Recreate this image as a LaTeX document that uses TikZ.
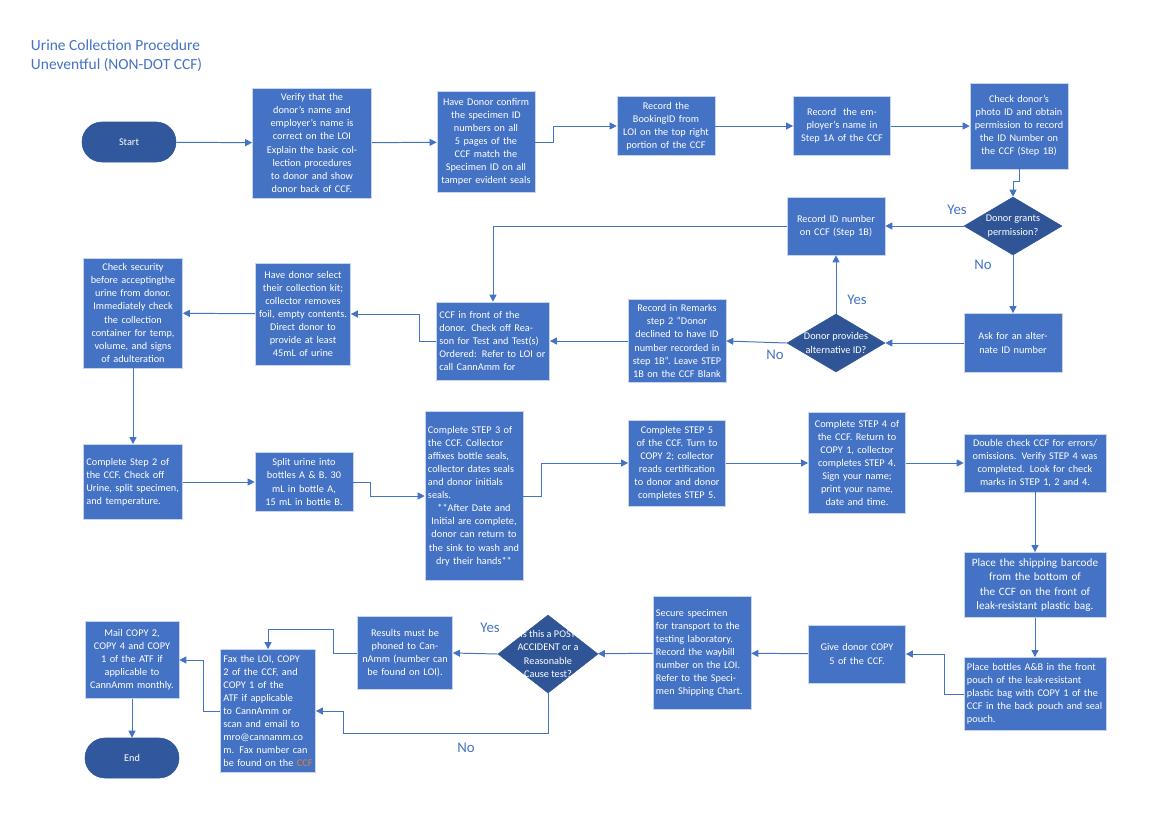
\documentclass[tikz,border=0pt]{standalone}
\usepackage{fontspec}
\setmainfont{Carlito}
\usetikzlibrary{shapes.geometric,arrows.meta}
\definecolor{boxblue}{HTML}{4472C4}
\definecolor{darkblue}{HTML}{2F5597}
\definecolor{ccforange}{HTML}{ED7D31}
\tikzset{
  procbox/.style={draw=white!70!boxblue, fill=boxblue, text=white, inner sep=0.075cm,
    font=\fontsize{7.3}{9.3}\selectfont, align=center},
  leftbox/.style={procbox, align=left},
  terminal/.style={draw=darkblue, fill=darkblue!90!boxblue, text=white, rounded corners=0.5cm,
    minimum width=2.35cm, minimum height=1cm, font=\fontsize{7.3}{9.3}\selectfont},
  decision/.style={diamond, draw=darkblue, fill=darkblue, minimum width=2.45cm,
    minimum height=1.45cm, inner sep=0pt},
  dtext/.style={text=white, font=\fontsize{7.3}{9.3}\selectfont, align=center},
  flow/.style={draw=boxblue, line width=0.7pt, -{Triangle[length=5pt,width=5pt]}},
  answer/.style={text=boxblue, font=\fontsize{10.5}{12}\selectfont}
}
\begin{document}
\begin{tikzpicture}[x=0.025cm, y=-0.025cm]
\useasboundingbox (0,0) rectangle (1167,825);

% Title
\node[anchor=west, text=boxblue, font=\fontsize{11}{13.5}\selectfont, align=left] (title) at (26,56)
  {Urine Collection Procedure\\Uneventful (NON-DOT CCF)};

% First row
\node[terminal] (start) at (129,142) {Start};
\node[procbox, text width=2.83cm, minimum height=2.75cm] (verify) at (312,143)
  {Verify that the donor's name and employer's name is correct on the LOI\\Explain the basic collection procedures to donor and show donor back of CCF.};
\node[procbox, text width=2.3cm, minimum height=2.53cm] (confirm) at (486,142)
  {Have Donor confirm the specimen ID numbers on all 5 pages of the CCF match the Specimen ID on all tamper evident seals};
\node[procbox, text width=2.3cm, minimum height=1.48cm] (booking) at (666,126)
  {Record the BookingID from LOI on the top right portion of the CCF};
\node[procbox, text width=2.28cm, minimum height=1.48cm] (employer) at (842,126)
  {Record\ \ the employer's name in Step 1A of the CCF};
\node[procbox, text width=2.3cm, minimum height=2.15cm] (photo) at (1019,126)
  {Check donor's photo ID and obtain permission to record the ID Number on the CCF (Step 1B)};

% Permission branch
\node[decision, label={[dtext]center:Donor grants\\permission?}] (grants) at (1013,226) {};
\node[procbox, text width=2.3cm, minimum height=1.45cm] (recordid) at (836,226)
  {Record ID number on CCF (Step 1B)};
\node[procbox, text width=2.3cm, minimum height=1.48cm] (askalt) at (1013,343)
  {Ask for an alternate ID number};
\node[decision, label={[dtext]center:Donor provides\\alternative ID?}] (altid) at (836,343) {};
\node[procbox, text width=2.3cm, minimum height=2.08cm] (remarks) at (677,341)
  {Record in Remarks step 2 ``Donor declined to have ID number recorded in step 1B''. Leave STEP 1B on the CCF Blank};
\node[leftbox, text width=2.68cm, minimum height=1.95cm] (infront) at (493,341)
  {CCF in front of the donor. Check off Reason for Test and Test(s) Ordered: Refer to LOI or call CannAmm for};
\node[procbox, text width=2.23cm, minimum height=2.55cm] (kit) at (303,314)
  {Have donor select their collection kit; collector removes foil, empty contents. Direct donor to provide at least 45mL of urine};
\node[procbox, text width=2.33cm, minimum height=2.75cm] (security) at (133,313)
  {Check security before acceptingthe urine from donor. Immediately check the collection container for temp, volume, and signs of adulteration};

% Third row
\node[leftbox, text width=2.33cm, minimum height=1.88cm] (steptwo) at (133,482)
  {Complete Step 2 of the CCF. Check off Urine, split specimen, and temperature.};
\node[procbox, text width=2.3cm, minimum height=1.48cm] (split) at (304,482)
  {Split urine into bottles A \& B. 30 mL in bottle A, 15 mL in bottle B.};
\node[procbox, text width=2.3cm, minimum height=4.23cm] (stepthree) at (474,496)
  {\raggedright Complete STEP 3 of the CCF. Collector affixes bottle seals, collector dates seals and donor initials seals.\par\centering **After Date and Initial are complete, donor can return to the sink to wash and dry their hands**};
\node[procbox, text width=2.28cm, minimum height=2.15cm] (stepfive) at (677,463)
  {Complete STEP 5 of the CCF. Turn to COPY 2; collector reads certification to donor and donor completes STEP 5.};
\node[procbox, text width=2.28cm, minimum height=2.53cm] (stepfour) at (857,463)
  {Complete STEP 4 of the CCF. Return to COPY 1, collector completes STEP 4. Sign your name; print your name, date and time.};
\node[procbox, text width=3.4cm, minimum height=1.45cm] (double) at (1035,463)
  {Double check CCF for errors/ omissions. Verify STEP 4 was completed. Look for check marks in STEP 1, 2 and 4.};
\node[procbox, text width=3.4cm, minimum height=1.63cm, font=\fontsize{8}{10.2}\selectfont] (barcode) at (1035,585)
  {Place the shipping barcode from the bottom of the CCF on the front of leak-resistant plastic bag.};
\node[leftbox, text width=3.4cm, minimum height=1.83cm] (bottles) at (1035,694)
  {Place bottles A\&B in the front pouch of the leak-resistant plastic bag with COPY 1 of the CCF in the back pouch and seal pouch.};

% Bottom row
\node[procbox, text width=2.28cm, minimum height=1.45cm] (givecopy) at (857,654)
  {Give donor COPY 5 of the CCF.};
\node[leftbox, text width=2.3cm, minimum height=2.83cm] (secure) at (702,653)
  {Secure specimen for transport to the testing laboratory. Record the waybill number on the LOI. Refer to the Specimen Shipping Chart.};
\node[decision, minimum width=2.5cm, minimum height=1.95cm,
  label={[dtext]center:Is this a POST\\ACCIDENT or a\\Reasonable\\Cause test?}] (cause) at (548,654) {};
\node[procbox, text width=2.23cm, minimum height=1.83cm] (phoned) at (405,653)
  {Results must be phoned to CannAmm (number can be found on LOI).};
\node[leftbox, text width=2.23cm, minimum height=3.08cm] (fax) at (268,711)
  {Fax the LOI, COPY 2 of the CCF, and COPY 1 of the ATF if applicable to CannAmm or scan and email to mro@cannamm.co m. Fax number can be found on the \textcolor{ccforange}{CCF}};
\node[procbox, text width=2.2cm, minimum height=1.93cm] (mail) at (132,660)
  {Mail COPY 2, COPY 4 and COPY 1 of the ATF if applicable to CannAmm monthly.};
\node[terminal] (finish) at (132,758) {End};

% Connectors
\draw[flow] (start) -- (verify);
\draw[flow] (verify) -- (confirm);
\draw[flow] (confirm.east) -- ++(18,0) |- (booking.west);
\draw[flow] (booking) -- (employer);
\draw[flow] (employer) -- (photo);
\draw[flow] (photo.south) -- ++(0,12) -| (grants.north);
\draw[flow] (grants.west) -- (recordid.east);
\draw[flow] (grants.south) -- (askalt.north);
\draw[flow] (askalt.west) -- (altid.east);
\draw[flow] (altid.north) -- (recordid.south);
\draw[flow] (altid.west) -- (remarks.east);
\draw[flow] (remarks.west) -- (infront.east);
\draw[flow] (recordid.west) -| (infront.north);
\draw[flow] (infront.west) -- ++(-17,0) |- (kit.east);
\draw[flow] (kit) -- (security);
\draw[flow] (security) -- (steptwo);
\draw[flow] (steptwo) -- (split);
\draw[flow] (split.east) -- ++(17,0) |- (stepthree.west);
\draw[flow] (stepthree.east) -- ++(18,0) |- (stepfive.west);
\draw[flow] (stepfive) -- (stepfour);
\draw[flow] (stepfour) -- (double);
\draw[flow] (double) -- (barcode);
\draw[flow] (barcode) -- (bottles);
\draw[flow] (bottles.west) -- ++(-19,0) |- (givecopy.east);
\draw[flow] (givecopy) -- (secure);
\draw[flow] (secure) -- (cause);
\draw[flow] (cause.west) -- (phoned.east);
\draw[flow] (phoned.west) -- ++(-24,0) -- ++(0,-24) -| (fax.north);
\draw[flow] (cause.south) |- (343,733) |- (fax.east);
\draw[flow] (fax.west) -- ++(-17,0) |- (mail.east);
\draw[flow] (mail) -- (finish);

% Answers
\node[answer] (yesgrant) at (957,210) {Yes};
\node[answer] (nogrant) at (983,265) {No};
\node[answer] (yesalt) at (857,300) {Yes};
\node[answer] (noalt) at (775,355) {No};
\node[answer] (yescause) at (490,628) {Yes};
\node[answer] (nocause) at (466,748) {No};
\end{tikzpicture}
\end{document}
